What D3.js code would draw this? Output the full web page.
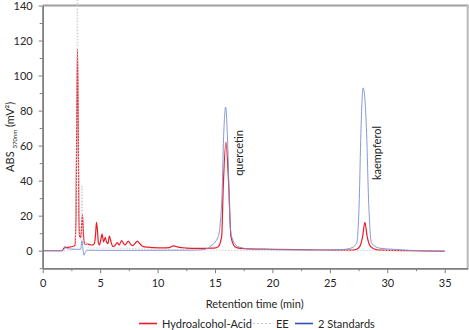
<!DOCTYPE html>
<html>
<head>
<meta charset="utf-8">
<script src="https://cdn.jsdelivr.net/npm/d3@7"></script>
<style>
  html, body { margin: 0; padding: 0; background: #fff; }
  svg { display: block; font-family: Lato, "Open Sans", sans-serif; }
</style>
</head>
<body>
<svg id="chart" width="469" height="330"></svg>
<script>
// Chromatograms at 370 nm: retention time (min) vs absorbance (mV²)
const hydroTime = [0, 1.7, 1.85, 2.0, 2.3, 2.6, 2.8, 2.9, 2.97, 3.03, 3.09, 3.15, 3.22, 3.32, 3.40, 3.46, 3.52, 3.6, 3.7, 3.9, 4.1, 4.3, 4.5, 4.6, 4.68, 4.76, 4.85, 4.95, 5.05, 5.17, 5.3, 5.45, 5.55, 5.68, 5.8, 5.95, 6.1, 6.2, 6.35, 6.5, 6.65, 6.87, 7.05, 7.16, 7.3, 7.45, 7.62, 7.83, 8.05, 8.24, 8.45, 8.76, 9.2, 9.6, 10.5, 11.0, 11.4, 11.8, 12.5, 13.5, 14.5, 14.9, 15.28, 15.58, 15.72, 15.95, 16.2, 16.39, 16.74, 17.2, 18, 20, 22, 24, 26, 27.0, 27.33, 27.6, 27.85, 28.05, 28.25, 28.55, 29.1, 29.5, 32, 35];
const hydroAbs  = [0, 0, 1.5, 1.8, 2.0, 2.4, 3, 20, 80, 115, 75, 20, 8, 7.5, 16, 20.4, 13, 5, 3.5, 3.8, 3.5, 3.2, 4, 9, 16.2, 12, 4.5, 3.3, 6, 9.4, 5, 7.6, 5, 4, 8.4, 5, 2.5, 2.4, 3.5, 4.6, 3.2, 5.7, 4, 3.3, 4.2, 5.5, 4, 2.9, 4.2, 5.5, 4.0, 2.3, 2.0, 1.7, 1.6, 1.8, 2.8, 2.0, 1.5, 1.3, 1.4, 1.5, 2.3, 8, 36.5, 62, 36.5, 8, 2.3, 1.3, 1.0, 0.8, 0.6, 0.4, 0.3, 0.3, 0.8, 2.3, 8, 16.2, 8, 2.3, 0.5, 0.3, 0, -0.3];

const eeTime = [0, 2.5, 2.7, 2.85, 2.95, 3.02, 3.1, 3.2, 3.35, 3.43, 3.5, 3.65, 3.8, 4.0, 6, 9, 12, 15, 20, 35];
const eeAbs  = [0, 0, 2, 8, 60, 160, 60, 8, 6, 37.5, 8, 3, 5, 1.5, 1.5, 1, 0.5, 0.3, 0, 0];

const stdTime = [0, 1.7, 1.85, 1.95, 2.05, 2.3, 2.8, 3.3, 3.42, 3.5, 3.6, 3.7, 3.85, 5, 10, 13, 14.0, 14.56, 15.28, 15.6, 15.75, 15.93, 16.1, 16.3, 16.45, 17.02, 18, 20, 24, 26, 26.8, 27.33, 27.56, 27.70, 27.9, 28.2, 28.37, 28.63, 29.36, 30.5, 32, 35];
const stdAbs  = [0, 0, 0.8, 2.7, 1.5, 1.0, 0.8, 0.8, 5.7, 1, -2.6, -1, 0.3, 0.2, 0.2, 0.3, 0.6, 2.3, 8, 30, 65, 82, 62, 17.5, 8, 2.3, 1.0, 0.6, 0.4, 0.6, 1.4, 4.2, 29, 67, 93, 67, 29, 4.2, 1.4, 0.8, 0.2, -0.3];

const xMajorTicks = [0, 5, 10, 15, 20, 25, 30, 35];
const xMinorTicks = [2.5, 7.5, 12.5, 17.5, 22.5, 27.5, 32.5];
const yMajorTicks = [0, 20, 40, 60, 80, 100, 120, 140];
const yMinorTicks = [-10, 10, 30, 50, 70, 90, 110, 130];

const seriesNames = ["Hydroalcohol-Acid", "EE", "2 Standards"];
const peakNames = ["quercetin", "kaempferol"];
const peakTimes = [17.1, 29.1];

const svg = d3.select("#chart");
const plotLeft = 42.7, plotRight = 467.7, plotTop = 5.5, plotBottom = 268.2;

const x = d3.scaleLinear().domain([0, 37]).range([plotLeft, plotRight]);
const y = d3.scaleLinear().domain([-10, 140]).range([plotBottom, plotTop]);

const toPoints = (ts, vs) => ts.map((t, i) => [t, vs[i]]);
const line = d3.line().x(d => x(d[0])).y(d => y(d[1])).curve(d3.curveMonotoneX);

// frame: light top/right edges
svg.append("line").attr("x1", plotLeft).attr("x2", plotRight).attr("y1", plotTop).attr("y2", plotTop)
  .attr("stroke", "#a0a0a0").attr("stroke-width", 2);
svg.append("line").attr("x1", plotRight).attr("x2", plotRight).attr("y1", plotTop - 1).attr("y2", plotBottom)
  .attr("stroke", "#b8b8b8").attr("stroke-width", 2);

// series
svg.append("path").datum(toPoints(hydroTime, hydroAbs)).attr("d", line)
  .attr("fill", "none").attr("stroke", "#ec1c24").attr("stroke-width", 1.2);
svg.append("path").datum(toPoints(eeTime, eeAbs)).attr("d", line)
  .attr("fill", "none").attr("stroke", "#d2d2d2").attr("stroke-width", 1).attr("stroke-dasharray", "1.5,1.5");
svg.append("path").datum(toPoints(stdTime, stdAbs)).attr("d", line)
  .attr("fill", "none").attr("stroke", "#7a8cd4").attr("stroke-width", 0.9);

// axes
const axisColor = "#7f7f7f";
function styleAxis(g) {
  g.select(".domain").attr("stroke", axisColor).attr("stroke-width", 1.5);
  g.selectAll(".tick line").attr("stroke", axisColor).attr("stroke-width", 1);
  g.selectAll("text").attr("fill", "#262626").style("font-size", "11px").style("font-family", "Lato, 'Open Sans', sans-serif");
}
const gxMinor = svg.append("g").attr("transform", `translate(0,${plotBottom})`)
  .call(d3.axisBottom(x).tickValues(xMinorTicks).tickSize(3).tickFormat("").tickSizeOuter(0));
styleAxis(gxMinor);
const gx = svg.append("g").attr("transform", `translate(0,${plotBottom})`)
  .call(d3.axisBottom(x).tickValues(xMajorTicks).tickSize(5).tickPadding(6).tickSizeOuter(0));
styleAxis(gx);

const gyMinor = svg.append("g").attr("transform", `translate(${plotLeft},0)`)
  .call(d3.axisLeft(y).tickValues(yMinorTicks).tickSize(3).tickFormat("").tickSizeOuter(0));
styleAxis(gyMinor);
const gy = svg.append("g").attr("transform", `translate(${plotLeft},0)`)
  .call(d3.axisLeft(y).tickValues(yMajorTicks).tickSize(4).tickPadding(6).tickSizeOuter(0));
styleAxis(gy);

// axis titles
svg.append("text").attr("x", (plotLeft + plotRight) / 2 - 0.5).attr("y", 308).attr("text-anchor", "middle")
  .attr("fill", "#262626").style("font-size", "11px").text("Retention time (min)");

const yTitle = svg.append("text")
  .attr("transform", `translate(14,${(plotTop + plotBottom) / 2}) rotate(-90)`)
  .attr("text-anchor", "middle").attr("fill", "#262626").style("font-size", "11px");
yTitle.append("tspan").text("ABS ");
yTitle.append("tspan").attr("dy", 3).style("font-size", "6px").text("370nm");
yTitle.append("tspan").attr("dy", -3).text(" (mV²)");

// peak labels
peakNames.forEach((name, i) => {
  svg.append("text")
    .attr("transform", `translate(${x(peakTimes[i]) + 4},${153}) rotate(-90)`)
    .attr("text-anchor", "middle").attr("fill", "#1a1a1a").style("font-size", "11px").text(name);
});

// legend
const legendY = 323.5;
const legendX = [139, 253, 295];
const legendStyle = [
  { stroke: "#ec1c24", width: 1.6, dash: null },
  { stroke: "#c8c8c8", width: 1, dash: "2,2" },
  { stroke: "#2f4fb0", width: 1.6, dash: null }
];
seriesNames.forEach((name, i) => {
  const g = svg.append("g").attr("transform", `translate(${legendX[i]},${legendY})`);
  const l = g.append("line").attr("x1", 0).attr("x2", 18).attr("y1", 0).attr("y2", 0)
    .attr("stroke", legendStyle[i].stroke).attr("stroke-width", legendStyle[i].width);
  if (legendStyle[i].dash) l.attr("stroke-dasharray", legendStyle[i].dash);
  g.append("text").attr("x", 23).attr("y", 4).attr("fill", "#262626").style("font-size", "11px").text(name);
});
</script>
</body>
</html>
